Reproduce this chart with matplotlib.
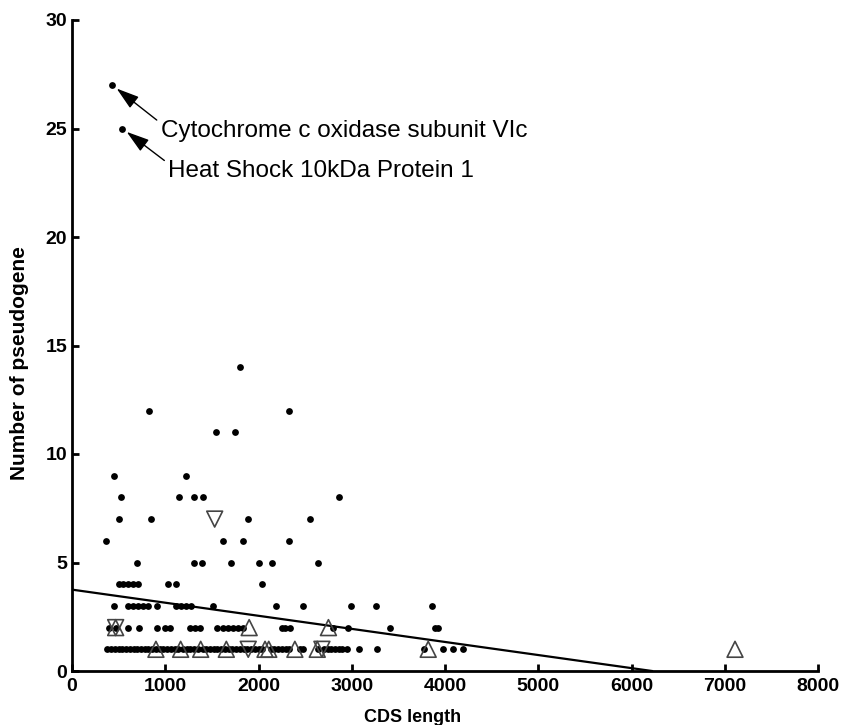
import numpy as np
import matplotlib
matplotlib.use("Agg")
import matplotlib.pyplot as plt

matplotlib.rcParams['font.family'] = ["Liberation Sans", "DejaVu Sans"]

# genes without a special mark (CDS length, number of pseudogenes)
dot_x = [432, 539, 1804, 825, 2330, 1544, 1751, 447, 1222,
         522, 1150, 1305, 1408, 2866,
         504, 844, 1890, 2555,
         368, 1615, 1833, 2330,
         694, 1305, 1394, 1701, 2008, 2141, 2637,
         504, 550, 604, 657, 704, 1032, 1115, 2040,
         447, 604, 657, 711, 764, 818, 914, 1115, 1168, 1222, 1273, 1508, 2184, 2473, 2988, 3259, 3856,
         400, 468, 604, 721, 914, 997, 1051, 1265, 1319, 1372, 1551, 1622, 1676, 1729, 1783, 1833,
         2248, 2283, 2337, 2801, 2956, 3409, 3891, 3920,
         380, 420, 460, 500, 540, 580, 620, 660, 700, 740, 780, 820, 860, 900, 940, 980, 1020,
         1060, 1100, 1140, 1190, 1230, 1270, 1310, 1350, 1400, 1440, 1480, 1520, 1560, 1600,
         1640, 1680, 1720, 1760, 1800, 1840, 1880, 1920, 1960, 2000, 2040, 2130, 2170, 2210,
         2250, 2290, 2330, 2440, 2480, 2640, 2700, 2740, 2780, 2820, 2860, 2900, 2950, 3080,
         3270, 3770, 3980, 4090, 4190]
dot_y = [27, 25, 14, 12, 12, 11, 11, 9, 9,
         8, 8, 8, 8, 8,
         7, 7, 7, 7,
         6, 6, 6, 6,
         5, 5, 5, 5, 5, 5, 5,
         4, 4, 4, 4, 4, 4, 4, 4,
         3, 3, 3, 3, 3, 3, 3, 3, 3, 3, 3, 3, 3, 3, 3, 3, 3,
         2, 2, 2, 2, 2, 2, 2, 2, 2, 2, 2, 2, 2, 2, 2, 2,
         2, 2, 2, 2, 2, 2, 2, 2,
         1, 1, 1, 1, 1, 1, 1, 1, 1, 1, 1, 1, 1, 1, 1, 1, 1,
         1, 1, 1, 1, 1, 1, 1, 1, 1, 1, 1, 1, 1, 1,
         1, 1, 1, 1, 1, 1, 1, 1, 1, 1, 1, 1, 1, 1,
         1, 1, 1, 1, 1, 1, 1, 1, 1, 1, 1, 1, 1, 1,
         1, 1, 1, 1, 1]

up_x = [468, 1900, 2750, 900, 1165, 1380, 1655, 2070, 2110, 2390, 2630, 3820, 7110]
up_y = [2, 2, 2, 1, 1, 1, 1, 1, 1, 1, 1, 1, 1]

down_x = [468, 1530, 1890, 2680]
down_y = [2, 7, 1, 1]

# fitted line end points
fit_x = [0, 6220]
fit_y = [3.75, 0]

labels = ["Cytochrome c oxidase subunit VIc", "Heat Shock 10kDa Protein 1"]
label_x = [dot_x[0], dot_x[1]]
label_y = [dot_y[0], dot_y[1]]

fig = plt.figure(figsize=(8.44, 7.25), dpi=100)
ax = fig.add_axes([72/844, 54/725, (818-72)/844, (671-20)/725])

ax.plot(fit_x, fit_y, color="black", lw=1.6, zorder=2)
ax.scatter(dot_x, dot_y, s=24, color="black", linewidths=0, zorder=3)
ax.scatter(up_x, up_y, s=130, marker="^", facecolors="none", edgecolors="#444444",
           linewidths=1.2, zorder=4)
ax.scatter(down_x, down_y, s=130, marker="v", facecolors="none", edgecolors="#444444",
           linewidths=1.2, zorder=4)

# labels with arrows
offsets = [(34.8, -32.9), (33.1, -30.7)]
for lab, x, y, off in zip(labels, label_x, label_y, offsets):
    ax.annotate(lab, xy=(x, y), xytext=off, textcoords="offset points",
                fontsize=17.5, va="center", ha="left",
                arrowprops=dict(arrowstyle="-|>,head_length=0.8,head_width=0.25",
                                color="black", lw=1.0, relpos=(0, 0.85),
                                shrinkA=1, shrinkB=4))

ax.set_xlim(0, 8000)
ax.set_ylim(0, 30)
ax.set_xticks(range(0, 8001, 1000))
ax.set_yticks(range(0, 31, 5))
for s in ["top", "right"]:
    ax.spines[s].set_visible(False)
for s in ["left", "bottom"]:
    ax.spines[s].set_linewidth(2)
ax.tick_params(direction="in", length=5, width=2, labelsize=14)
ax.tick_params(axis="x", pad=5)
ax.tick_params(axis="y", pad=3.5)
for t in ax.get_xticklabels() + ax.get_yticklabels():
    t.set_fontweight("bold")

ax.set_xlabel("CDS length", fontsize=13, fontweight="bold")
ax.xaxis.set_label_coords((413-72)/746, -0.058)
ax.set_ylabel("Number of pseudogene", fontsize=15, fontweight="bold")
ax.yaxis.set_label_coords(-0.058, (671-363)/651)

plt.savefig("out.png", dpi=100)
